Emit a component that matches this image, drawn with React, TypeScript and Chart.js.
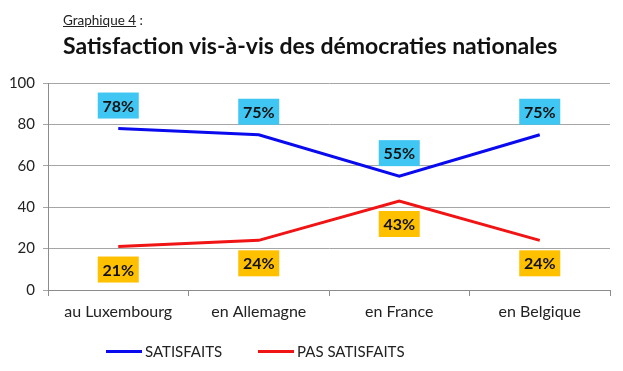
import React, { useEffect, useRef } from "react";
import { Chart, registerables } from "chart.js";

Chart.register(...registerables);

const categories = ["au Luxembourg", "en Allemagne", "en France", "en Belgique"];
const satisfaits = [78, 75, 55, 75];
const pasSatisfaits = [21, 24, 43, 24];
const yTicks = [0, 20, 40, 60, 80, 100];
const seriesNames = ["SATISFAITS", "PAS SATISFAITS"];
const seriesColors = ["#0A0AEE", "#F01414"];

const FONT = "Lato, 'Open Sans', sans-serif";

const labelPlugin = {
  id: "boxLabels",
  afterDatasetsDraw(chart: any) {
    const ctx = chart.ctx;
    const cfg = [
      { bg: "#3FC6F2", dy: -23 },
      { bg: "#FFC000", dy: 23 },
    ];
    chart.data.datasets.forEach((ds: any, i: number) => {
      const meta = chart.getDatasetMeta(i);
      meta.data.forEach((pt: any, j: number) => {
        const txt = ds.data[j] + "%";
        const cx = pt.x;
        const cy = pt.y + cfg[i].dy;
        const w = 41;
        const h = 26;
        ctx.save();
        ctx.fillStyle = cfg[i].bg;
        ctx.fillRect(cx - w / 2, cy - h / 2, w, h);
        ctx.fillStyle = "#111";
        ctx.font = "bold 16px " + FONT;
        ctx.textAlign = "center";
        ctx.textBaseline = "middle";
        ctx.fillText(txt, cx, cy + 1);
        ctx.restore();
      });
    });
  },
};

export default function App() {
  const ref = useRef<HTMLCanvasElement>(null);
  useEffect(() => {
    const chart = new Chart(ref.current!, {
      type: "line",
      data: {
        labels: categories,
        datasets: seriesNames.map((name, i) => ({
          label: name,
          data: i === 0 ? satisfaits : pasSatisfaits,
          borderColor: seriesColors[i],
          backgroundColor: seriesColors[i],
          borderWidth: 3,
          pointRadius: 0,
          tension: 0,
        })),
      },
      options: {
        animation: false,
        responsive: false,
        layout: { padding: { top: 83, right: 13, left: 0, bottom: 41 } },
        plugins: {
          legend: { display: false },
          tooltip: { enabled: false },
          title: { display: false },
        },
        scales: {
          x: {
            offset: true,
            grid: {
              offset: true,
              drawOnChartArea: false,
              color: "#8C8C8C",
              tickLength: 6,
            },
            border: { color: "#8C8C8C" },
            ticks: {
              font: { family: FONT, size: 16 },
              color: "#222",
              padding: 6,
            },
            afterFit(s: any) {
              s.height = 40;
            },
          },
          y: {
            min: 0,
            max: 100,
            afterBuildTicks(s: any) {
              s.ticks = yTicks.map((v) => ({ value: v }));
            },
            grid: { color: "#A6A6A6", tickLength: 5 },
            border: { color: "#8C8C8C" },
            ticks: {
              font: { family: FONT, size: 15 },
              color: "#222",
              padding: 8,
            },
            afterFit(s: any) {
              s.width = 48;
            },
          },
        },
      },
      plugins: [labelPlugin],
    });
    return () => chart.destroy();
  }, []);
  const legendItem = (i: number, left: number) => (
    <div key={i} style={{ position: "absolute", left, top: 341, height: 20, display: "flex", alignItems: "center", fontSize: 15, color: "#222", whiteSpace: "nowrap" }}>
      <span style={{ display: "inline-block", width: 36, height: 3, background: seriesColors[i], marginRight: 3 }} />
      {seriesNames[i]}
    </div>
  );
  return (
    <div style={{ position: "absolute", left: 0, top: 0, width: 623, height: 371, background: "#fff", fontFamily: FONT }}>
      <canvas ref={ref} width={623} height={371} style={{ position: "absolute", left: 0, top: 0 }} />
      <div style={{ position: "absolute", left: 63, top: 12, fontSize: 13.5, color: "#222" }}>
        <span style={{ textDecoration: "underline" }}>Graphique 4</span> :
      </div>
      <div style={{ position: "absolute", left: 63, top: 31, fontSize: 23, fontWeight: 700, color: "#111" }}>
        Satisfaction vis-à-vis des démocraties nationales
      </div>
      {legendItem(0, 106)}
      {legendItem(1, 258)}
    </div>
  );
}
